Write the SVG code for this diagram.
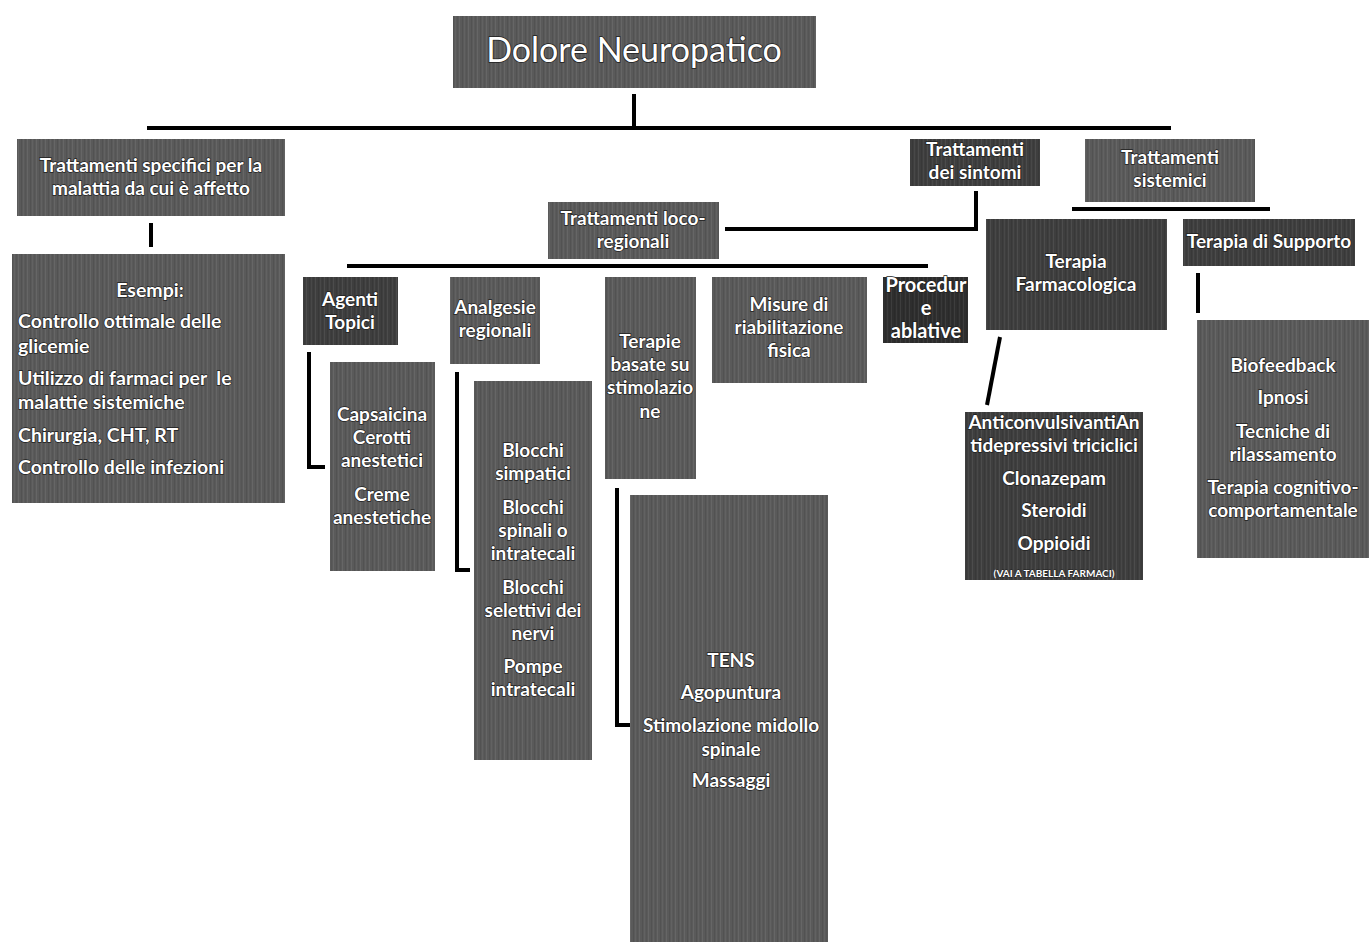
<svg xmlns="http://www.w3.org/2000/svg" width="1369" height="942" viewBox="0 0 1369 942">
<defs>
<pattern id="tex" width="9" height="10" patternUnits="userSpaceOnUse">
<rect x="0" y="0" width="1" height="10" fill="#ffffff" opacity="0.07"/>
<rect x="3" y="0" width="1" height="10" fill="#000000" opacity="0.09"/>
<rect x="5" y="0" width="1" height="10" fill="#ffffff" opacity="0.05"/>
<rect x="7" y="0" width="1" height="10" fill="#000000" opacity="0.06"/>
</pattern>
</defs>
<style>
.b{fill:#5a5a5a;}
.d{fill:#3e3e3e;}
.k{fill:#2e2e2e;}
.t{fill:url(#tex);}
text{font-family:Lato,"Noto Sans","Liberation Sans",sans-serif;fill:#ffffff;stroke:#1e1e1e;stroke-width:1.4px;paint-order:stroke;font-size:19px;font-weight:bold;text-anchor:middle;}
.l{text-anchor:start;}
.c line,.c path{stroke:#000;stroke-width:4;fill:none;}
</style>
<rect width="1369" height="942" fill="#ffffff"/>

<g class="c" id="connectors">
<line x1="634" y1="94" x2="634" y2="129"/>
<line x1="147" y1="128" x2="1171" y2="128"/>
<line x1="151" y1="223" x2="151" y2="247"/>
<path d="M976 191 V229 H725"/>
<line x1="1072" y1="209" x2="1270" y2="209"/>
<line x1="347" y1="266" x2="928" y2="266"/>
<path d="M309 352 V467 H325"/>
<path d="M457 372 V570 H470"/>
<path d="M617 488 V725 H630"/>
<line x1="1000" y1="337" x2="987" y2="405"/>
<line x1="1198" y1="273" x2="1198" y2="313"/>
</g>

<g id="root">
<rect class="b" x="453" y="16" width="363" height="72"/><rect class="t" x="453" y="16" width="363" height="72"/>
<text x="634" y="62" style="font-size:34px;font-weight:normal;stroke-width:1.6px">Dolore Neuropatico</text>
</g>

<g id="specifici">
<rect class="b" x="17" y="139" width="268" height="77"/><rect class="t" x="17" y="139" width="268" height="77"/>
<text x="151" y="172">Trattamenti specifici per la</text>
<text x="151" y="195">malattia da cui è affetto</text>
</g>

<g id="esempi">
<rect class="b" x="12" y="254" width="273" height="249"/><rect class="t" x="12" y="254" width="273" height="249"/>
<text x="150" y="297" style="font-size:19.5px">Esempi:</text>
<text class="l" x="18" y="328" style="font-size:19.5px">Controllo ottimale delle</text>
<text class="l" x="18" y="353" style="font-size:19.5px">glicemie</text>
<text class="l" x="18" y="385" style="font-size:19.5px;white-space:pre" xml:space="preserve">Utilizzo di farmaci per  le</text>
<text class="l" x="18" y="409" style="font-size:19.5px">malattie sistemiche</text>
<text class="l" x="18" y="442" style="font-size:19.5px">Chirurgia, CHT, RT</text>
<text class="l" x="18" y="474" style="font-size:19.5px">Controllo delle infezioni</text>
</g>

<g id="sintomi">
<rect class="d" x="910" y="139" width="130" height="47"/><rect class="t" x="910" y="139" width="130" height="47"/>
<text x="975" y="156">Trattamenti</text>
<text x="975" y="179">dei sintomi</text>
</g>

<g id="sistemici">
<rect class="b" x="1085" y="139" width="170" height="63"/><rect class="t" x="1085" y="139" width="170" height="63"/>
<text x="1170" y="164">Trattamenti</text>
<text x="1170" y="187">sistemici</text>
</g>

<g id="locoregionali">
<rect class="b" x="548" y="202" width="171" height="57"/><rect class="t" x="548" y="202" width="171" height="57"/>
<text x="633" y="225">Trattamenti loco-</text>
<text x="633" y="248">regionali</text>
</g>

<g id="agenti">
<rect class="d" x="303" y="277" width="95" height="68"/><rect class="t" x="303" y="277" width="95" height="68"/>
<text x="350" y="306">Agenti</text>
<text x="350" y="329">Topici</text>
</g>

<g id="capsaicina">
<rect class="b" x="330" y="362" width="105" height="209"/><rect class="t" x="330" y="362" width="105" height="209"/>
<text x="382" y="421">Capsaicina</text>
<text x="382" y="444">Cerotti</text>
<text x="382" y="467">anestetici</text>
<text x="382" y="501">Creme</text>
<text x="382" y="524">anestetiche</text>
</g>

<g id="analgesie">
<rect class="b" x="450" y="277" width="90" height="87"/><rect class="t" x="450" y="277" width="90" height="87"/>
<text x="495" y="314">Analgesie</text>
<text x="495" y="337">regionali</text>
</g>

<g id="blocchi">
<rect class="b" x="474" y="381" width="118" height="379"/><rect class="t" x="474" y="381" width="118" height="379"/>
<text x="533" y="457">Blocchi</text>
<text x="533" y="480">simpatici</text>
<text x="533" y="514">Blocchi</text>
<text x="533" y="537">spinali o</text>
<text x="533" y="560">intratecali</text>
<text x="533" y="594">Blocchi</text>
<text x="533" y="617">selettivi dei</text>
<text x="533" y="640">nervi</text>
<text x="533" y="673">Pompe</text>
<text x="533" y="696">intratecali</text>
</g>

<g id="stimolazione">
<rect class="b" x="605" y="277" width="91" height="202"/><rect class="t" x="605" y="277" width="91" height="202"/>
<text x="650" y="348">Terapie</text>
<text x="650" y="371">basate su</text>
<text x="650" y="394">stimolazio</text>
<text x="650" y="418">ne</text>
</g>

<g id="tens">
<rect class="b" x="630" y="495" width="198" height="447"/><rect class="t" x="630" y="495" width="198" height="447"/>
<text x="731" y="667">TENS</text>
<text x="731" y="699">Agopuntura</text>
<text x="731" y="732">Stimolazione midollo</text>
<text x="731" y="756">spinale</text>
<text x="731" y="787">Massaggi</text>
</g>

<g id="riabilitazione">
<rect class="b" x="712" y="277" width="155" height="106"/><rect class="t" x="712" y="277" width="155" height="106"/>
<text x="789" y="311">Misure di</text>
<text x="789" y="334">riabilitazione</text>
<text x="789" y="357">fisica</text>
</g>

<g id="ablative">
<rect class="k" x="883" y="277" width="85" height="66"/><rect class="t" x="883" y="277" width="85" height="66"/>
<text x="926" y="292" style="font-size:20px">Procedur</text>
<text x="926" y="315" style="font-size:20px">e</text>
<text x="926" y="338" style="font-size:20px">ablative</text>
</g>

<g id="farmacologica">
<rect class="d" x="986" y="219" width="181" height="111"/><rect class="t" x="986" y="219" width="181" height="111"/>
<text x="1076" y="268">Terapia</text>
<text x="1076" y="291">Farmacologica</text>
</g>

<g id="farmaci">
<rect class="d" x="965" y="412" width="178" height="168"/><rect class="t" x="965" y="412" width="178" height="168"/>
<text x="1054" y="429">AnticonvulsivantiAn</text>
<text x="1054" y="452">tidepressivi triciclici</text>
<text x="1054" y="485">Clonazepam</text>
<text x="1054" y="517">Steroidi</text>
<text x="1054" y="550">Oppioidi</text>
<text x="1054" y="577" style="font-size:10px;stroke-width:0.8px">(VAI A TABELLA FARMACI)</text>
</g>

<g id="supporto">
<rect class="d" x="1183" y="219" width="172" height="47"/><rect class="t" x="1183" y="219" width="172" height="47"/>
<text x="1269" y="248">Terapia di Supporto</text>
</g>

<g id="supportolist">
<rect class="b" x="1197" y="320" width="172" height="238"/><rect class="t" x="1197" y="320" width="172" height="238"/>
<text x="1283" y="372">Biofeedback</text>
<text x="1283" y="404">Ipnosi</text>
<text x="1283" y="438">Tecniche di</text>
<text x="1283" y="461">rilassamento</text>
<text x="1283" y="494">Terapia cognitivo-</text>
<text x="1283" y="517">comportamentale</text>
</g>
</svg>
